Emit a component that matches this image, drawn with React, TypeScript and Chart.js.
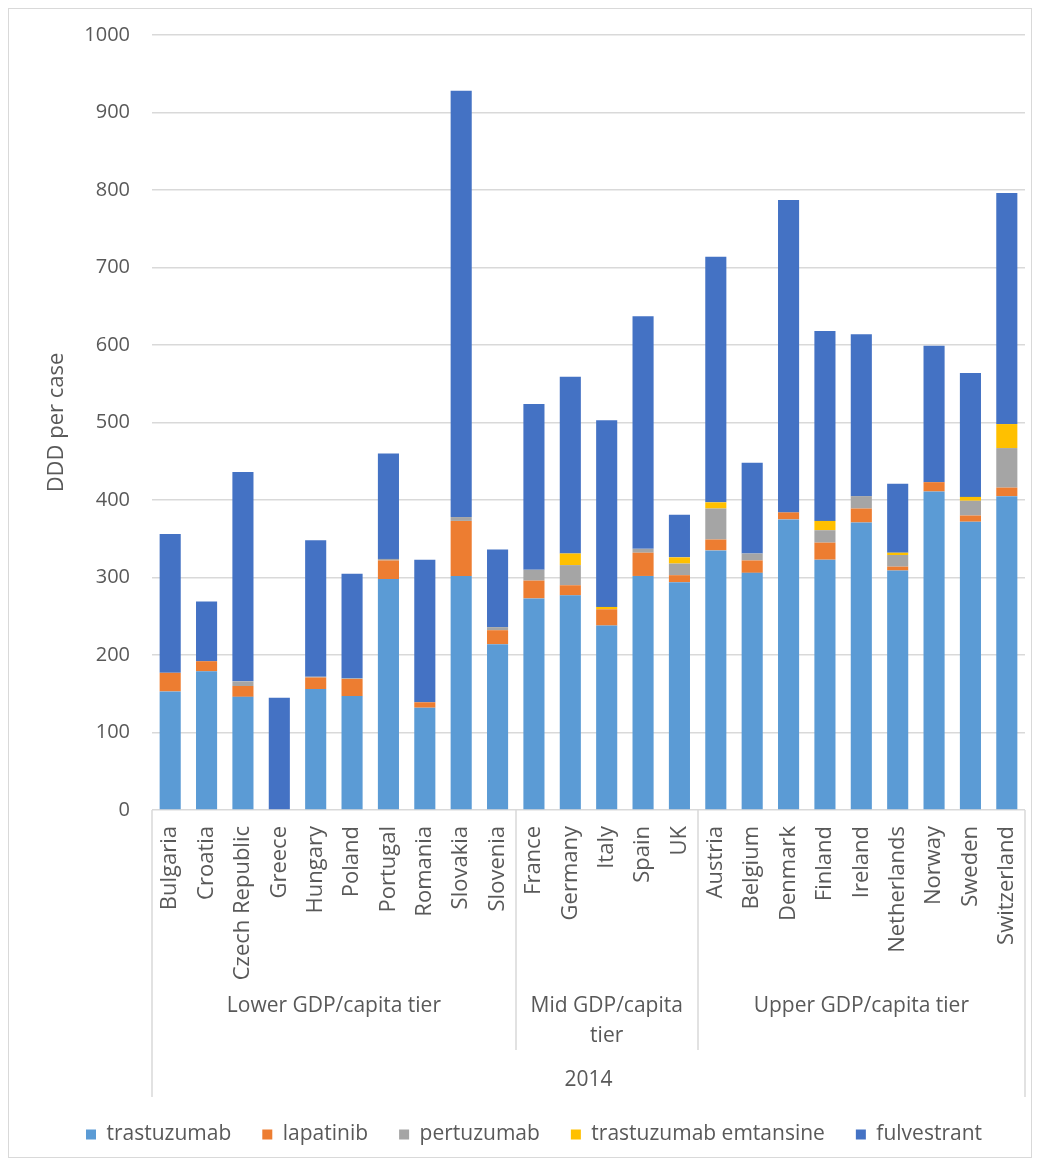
import React, { useEffect, useRef } from "react";
import { Chart, registerables } from "chart.js";

Chart.register(...registerables);

const countries = [
  "Bulgaria", "Croatia", "Czech Republic", "Greece", "Hungary", "Poland", "Portugal", "Romania", "Slovakia", "Slovenia",
  "France", "Germany", "Italy", "Spain", "UK",
  "Austria", "Belgium", "Denmark", "Finland", "Ireland", "Netherlands", "Norway", "Sweden", "Switzerland",
];

const trastuzumab = [153, 179, 146, 0, 156, 147, 298, 132, 302, 214, 273, 277, 238, 302, 294, 335, 306, 375, 323, 371, 309, 411, 372, 405];
const lapatinib = [24, 13, 14, 0, 15, 22, 24, 7, 71, 18, 23, 13, 21, 30, 9, 14, 16, 9, 22, 18, 5, 12, 8, 11];
const pertuzumab = [0, 0, 6, 0, 1, 1, 2, 0, 5, 4, 14, 26, 0, 5, 15, 40, 9, 0, 16, 16, 15, 0, 19, 51];
const trastuzumabEmtansine = [0, 0, 0, 0, 0, 0, 0, 0, 0, 0, 0, 15, 3, 0, 8, 8, 0, 0, 12, 0, 3, 0, 5, 31];
const fulvestrant = [179, 77, 270, 145, 176, 135, 136, 184, 550, 100, 214, 228, 241, 300, 55, 317, 117, 403, 245, 209, 89, 176, 160, 298];

const groups = [
  { label: ["Lower GDP/capita tier"], start: 0, end: 9 },
  { label: ["Mid GDP/capita", "tier"], start: 10, end: 14 },
  { label: ["Upper GDP/capita tier"], start: 15, end: 23 },
];
const yearLabel = "2014";

const FONT = "'Open Sans', 'Noto Sans', sans-serif";
const TEXT = "#595959";
const LINE = "#d9d9d9";

const axisPlugin = {
  id: "multiLevelAxis",
  afterDraw(chart: any) {
    const { ctx, chartArea } = chart;
    const x = chart.scales.x;
    const bottom = chartArea.bottom;
    const left = chartArea.left;
    const right = chartArea.right;
    const boundary = (i: number) => (x.getPixelForValue(i) + x.getPixelForValue(i + 1)) / 2;
    ctx.save();
    ctx.strokeStyle = LINE;
    ctx.lineWidth = 1.5;
    const vline = (px: number, y2: number) => {
      ctx.beginPath();
      ctx.moveTo(Math.round(px), bottom);
      ctx.lineTo(Math.round(px), y2);
      ctx.stroke();
    };
    vline(left, bottom + 287);
    vline(right, bottom + 287);
    groups.forEach((g, gi) => {
      if (gi < groups.length - 1) vline(boundary(g.end), bottom + 240);
    });
    ctx.fillStyle = TEXT;
    ctx.font = `21px ${FONT}`;
    ctx.textAlign = "center";
    ctx.textBaseline = "middle";
    groups.forEach((g, gi) => {
      const x0 = gi === 0 ? left : boundary(g.start - 1);
      const x1 = gi === groups.length - 1 ? right : boundary(g.end);
      const cx = (x0 + x1) / 2;
      g.label.forEach((line, li) => {
        ctx.fillText(line, cx, bottom + 196 + li * 30);
      });
    });
    ctx.fillText(yearLabel, (left + right) / 2, bottom + 270);
    ctx.restore();
  },
};

export default function App() {
  const canvasRef = useRef<HTMLCanvasElement | null>(null);

  useEffect(() => {
    if (!canvasRef.current) return;
    const mk = (label: string, data: number[], color: string) => ({
      label,
      data,
      backgroundColor: color,
      borderWidth: 0,
      barPercentage: 0.58,
      categoryPercentage: 1,
      stack: "s",
    });
    const chart = new Chart(canvasRef.current, {
      type: "bar",
      data: {
        labels: countries,
        datasets: [
          mk("trastuzumab", trastuzumab, "#5B9BD5"),
          mk("lapatinib", lapatinib, "#ED7D31"),
          mk("pertuzumab", pertuzumab, "#A5A5A5"),
          mk("trastuzumab emtansine", trastuzumabEmtansine, "#FFC000"),
          mk("fulvestrant", fulvestrant, "#4472C4"),
        ],
      },
      options: {
        animation: false,
        responsive: false,
        maintainAspectRatio: false,
        layout: { padding: { top: 26, left: 34, right: 6, bottom: 2 } },
        plugins: {
          legend: {
            position: "bottom",
            labels: {
              boxWidth: 10,
              boxHeight: 10,
              padding: 31,
              color: TEXT,
              font: { family: FONT, size: 21 },
            },
          },
          tooltip: { enabled: false },
        },
        scales: {
          x: {
            stacked: true,
            grid: { display: false, drawTicks: false },
            border: { display: false },
            ticks: {
              autoSkip: false,
              maxRotation: 90,
              minRotation: 90,
              padding: 16,
              color: TEXT,
              font: { family: FONT, size: 22 },
            },
            afterFit: (scale: any) => {
              scale.height = 283;
              scale.paddingLeft = 0;
              scale.paddingRight = 0;
            },
          },
          y: {
            stacked: true,
            min: 0,
            max: 1000,
            grid: { color: LINE, lineWidth: 1.5, drawTicks: false },
            border: { display: false },
            ticks: {
              stepSize: 100,
              padding: 22,
              color: TEXT,
              font: { family: FONT, size: 20 },
              callback: (v: any) => String(v),
            },
            title: {
              display: true,
              text: "DDD per case",
              color: TEXT,
              font: { family: FONT, size: 22 },
              padding: { top: 1, bottom: 0 },
            },
            afterFit: (scale: any) => {
              scale.width = 109;
              scale.paddingTop = 0;
              scale.paddingBottom = 0;
            },
          },
        },
      },
      plugins: [axisPlugin],
    } as any);
    return () => chart.destroy();
  }, []);

  return (
    <div style={{ width: 1022, height: 1148, border: `1px solid ${LINE}` }}>
      <canvas ref={canvasRef} width={1022} height={1148} style={{ display: "block" }} />
    </div>
  );
}
